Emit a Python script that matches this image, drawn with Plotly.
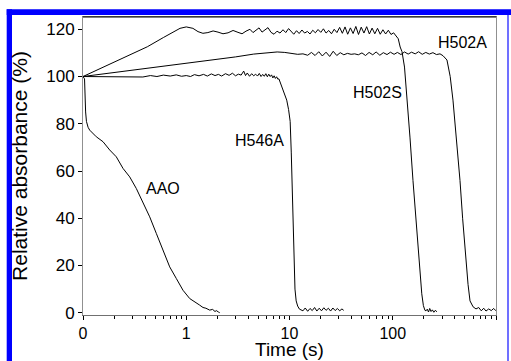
import math
import plotly.graph_objects as go

FONT = "Liberation Sans, Arial, sans-serif"

# ---- data (time in s, relative absorbance in %) ----
aao_t = [0.1, 0.1035, 0.106, 0.108, 0.112, 0.1161, 0.1345, 0.1562, 0.1814, 0.2102, 0.244,
         0.2834, 0.3283, 0.3812, 0.4426, 0.5127, 0.5953, 0.6912, 0.8009, 0.93, 1.08,
         1.251, 1.35, 1.453, 1.55, 1.687, 1.8, 1.9, 1.954, 2.05, 2.109]
aao_a = [100, 99, 85, 81, 78.5, 77.3, 74.5, 72.4, 68.9, 66.0, 61.1,
         57.5, 52.6, 46.3, 40.6, 33.6, 26.5, 19.4, 14.5, 9.5, 6.0,
         3.9, 3.2, 2.2, 1.9, 1.1, 1.4, 0.5, 0.9, 0.3, 0.0]

h546a_t = [0.1, 0.2, 0.3, 0.38, 0.45, 0.52, 0.6, 0.7, 0.8, 0.9, 1.0, 1.1, 1.2, 1.33, 1.47,
           1.6, 1.75, 1.9, 2.05, 2.2, 2.4, 2.6, 2.8, 3.0, 3.2, 3.4, 3.6, 3.75, 3.9, 4.1,
           4.3, 4.5, 4.7, 4.9, 5.1, 5.3, 5.5, 5.7, 5.9, 6.1, 6.3, 6.5, 6.7, 6.9, 7.1,
           7.3, 7.5, 7.7, 7.9, 8.1, 8.4, 8.7, 9.0, 9.4, 9.8, 10.15, 10.4, 10.6, 10.85,
           11.1, 11.3, 11.6, 12.0, 12.5, 13.5, 14.2, 15.0, 15.8, 16.6, 17.5, 18.4, 19.4,
           20.4, 21.5, 22.6, 23.8, 25.0, 26.3, 27.7, 29.1, 30.6, 32.2, 33.5]
h546a_a = [100, 100.0, 100.1, 99.8, 100.4, 100.0, 100.6, 100.2, 100.7, 100.1, 100.4, 100.0,
           100.8, 100.3, 100.9, 100.2, 101.1, 100.4, 100.9, 100.2, 101.2, 100.5, 101.4,
           100.3, 101.0, 100.6, 102.3, 100.4, 101.5, 100.1, 101.2, 100.3, 101.0, 100.2,
           101.3, 100.0, 100.9, 100.1, 101.2, 99.9, 101.0, 100.0, 100.7, 99.4, 100.3,
           99.2, 99.9, 98.9, 99.0, 97.7, 96.5, 94.8, 92.8, 90, 86, 81, 68, 55, 38,
           22, 10, 5, 2.8, 1.5, 0.8, 2.0, 0.6, 1.8, 0.9, 2.2, 0.7, 1.9,
           0.8, 2.1, 1.0, 1.9, 0.7, 2.0, 0.9, 1.8, 0.8, 1.6, 1.0]

h502s_t = [0.1, 0.2, 0.42, 0.6, 0.75, 0.87, 1.0, 1.16, 1.3, 1.45, 1.62, 1.82, 2.03, 2.27,
           2.54, 2.84, 3.17, 3.47, 3.79, 4.14, 4.43, 4.74, 5.07, 5.42, 5.79, 6.19, 6.62,
           7.08, 7.57, 8.09, 8.65, 9.2, 9.8, 10.4, 11.0, 11.7, 12.4, 13.2, 14.0, 14.9,
           15.8, 16.8, 17.8, 18.9, 20.1, 21.3, 22.6, 24.0, 25.5, 27.1, 28.8, 30.6, 32.5,
           34.5, 36.6, 38.9, 41.3, 43.9, 46.6, 49.5, 52.6, 55.9, 59.4, 63.1, 67.0, 71.2,
           75.6, 80.3, 85.3, 90.6, 96.2, 102, 108, 113, 118, 123, 130, 137, 147, 157,
           167, 176, 185, 191, 198, 205, 210, 216, 222, 228, 235, 242, 250, 258, 268]
h502s_a = [100, 106.2, 112.6, 116.5, 119.0, 120.4, 121.0, 120.4, 119.0, 118.3, 118.6, 119.3,
           118.8, 118.1, 118.5, 119.5, 118.7, 118.1, 119.2, 120.0, 118.6, 119.6, 120.6,
           118.8, 119.6, 120.7, 118.7, 117.9, 119.2, 118.4, 119.8, 118.6, 120.3, 118.9,
           117.9, 119.4, 118.2, 119.7, 118.4, 119.1, 118.0, 119.6, 118.5, 119.9, 118.7,
           120.2, 118.4, 119.5, 118.1, 120.0, 118.6, 120.8, 118.3, 121.0, 117.9, 120.6,
           118.2, 121.2, 117.8, 120.9, 118.4, 121.1, 118.0, 120.5, 118.1, 120.4, 117.9,
           119.8, 118.0, 119.6, 117.8, 118.5, 117.2, 116.0, 112.5, 110.5, 104.0, 92, 74,
           56, 40, 26, 14, 8, 3, 1.0, 0.8, 1.5, 0.3, 1.8, 0.5, 1.2, 0.2, 1.0, 0.4]

h502a_t = [0.1, 0.3, 1, 2, 3, 4.5, 6, 7.6, 9, 10.5, 12, 13.5, 15, 16.3, 17.7, 19.2, 20.8,
           22.6, 24.5, 26.5, 28.7, 31, 33.6, 36.4, 39.5, 42.8, 46.4, 50.3, 54.5, 59, 64,
           69, 75, 81, 88, 95, 103, 111, 120, 130, 141, 152, 165, 178, 193, 209, 226,
           245, 265, 287, 307, 335, 360, 383, 410, 448, 475, 501, 536, 560, 600, 640,
           680, 720, 760, 800, 850, 900, 950, 1000]
h502a_a = [100, 102.6, 105.5, 107.2, 108.3, 109.5, 110.1, 110.4, 110.2, 109.8, 109.4, 109.6,
           109.0, 110.2, 108.9, 110.5, 108.7, 110.3, 108.5, 110.7, 108.9, 110.1, 109.2,
           109.8, 109.4, 109.6, 109.2, 110.0, 108.9, 110.2, 109.2, 110.4, 109.0, 110.1,
           109.3, 110.3, 109.4, 110.2, 109.3, 110.4, 109.5, 110.3, 109.6, 110.5, 109.4,
           110.2, 109.5, 110.1, 109.3, 109.6, 108.8, 107.0, 100, 90, 76, 56, 40, 26, 12,
           5, 2.5, 1.6, 2.2, 0.8, 1.9, 0.7, 1.6, 0.9, 1.8, 0.8]

x_tick_vals = [0.1, 1, 10, 100, 1000]
x_tick_text = ["0", "1", "10", "100", "1000"]
y_tick_vals = [0, 20, 40, 60, 80, 100, 120]

labels = ["AAO", "H546A", "H502S", "H502A"]
label_t = [0.595, 5.07, 70.4, 468.6]
label_a = [52.8, 73.1, 93.4, 114.2]

minor_vals = [m * d for d in (0.1, 1, 10, 100) for m in range(2, 10)]

fig = go.Figure()
for t, a in [(aao_t, aao_a), (h546a_t, h546a_a), (h502s_t, h502s_a), (h502a_t, h502a_a)]:
    fig.add_trace(go.Scatter(x=t, y=a, mode="lines",
                             line=dict(color="black", width=1), showlegend=False,
                             hoverinfo="skip"))

for txt, t, a in zip(labels, label_t, label_a):
    fig.add_annotation(x=math.log10(t), y=a, xref="x", yref="y", text=txt,
                       showarrow=False, font=dict(family=FONT, size=16, color="black"))


def px_x(p):
    return (p - 83) / 413.0


def px_y(p):
    return (315 - p) / 298.0


# x-axis title as an annotation so it can sit just below the tick labels
fig.add_annotation(x=0.5, y=px_y(361), xref="paper", yref="paper", text="Time (s)",
                   showarrow=False, yanchor="bottom", xanchor="center", borderpad=0,
                   font=dict(family=FONT, size=19, color="black"))

fig.update_layout(
    width=511, height=361,
    margin=dict(l=83, r=15, t=17, b=46, autoexpand=False),
    paper_bgcolor="white", plot_bgcolor="white",
    font=dict(family=FONT, size=16, color="black"),
    showlegend=False,
)

fig.update_xaxes(
    type="log", range=[-1, 3], tickvals=x_tick_vals, ticktext=x_tick_text,
    ticks="outside", ticklen=4, tickcolor="black", tickwidth=1,
    showline=True, linecolor="#707070", linewidth=1, mirror=True,
    showgrid=False, zeroline=False, automargin=False,
    tickfont=dict(family=FONT, size=16, color="black"),
    minor=dict(tickvals=minor_vals, ticks="outside", ticklen=3, tickcolor="black",
               showgrid=False),
)
fig.update_yaxes(
    range=[-0.97, 125.2], tickvals=y_tick_vals,
    ticks="outside", ticklen=4, tickcolor="black", tickwidth=1,
    showline=True, linecolor="#909090", linewidth=1, mirror=True,
    showgrid=False, zeroline=False, automargin=False,
    tickfont=dict(family=FONT, size=17, color="black"),
    title=dict(text="Relative absorbance (%)", font=dict(family=FONT, size=21, color="black"),
               standoff=12),
)

# top frame line darker
fig.add_shape(type="line", xref="paper", yref="paper", x0=0, x1=1, y0=1, y1=1,
              line=dict(color="black", width=1))

# blue page frame
fig.add_shape(type="rect", xref="paper", yref="paper",
              x0=px_x(6.7), x1=px_x(12), y0=px_y(9.3), y1=px_y(361),
              line=dict(width=0), fillcolor="#0000ff")
fig.add_shape(type="rect", xref="paper", yref="paper",
              x0=px_x(6.7), x1=px_x(511), y0=px_y(9.3), y1=px_y(15),
              line=dict(width=0), fillcolor="#0000ff")
fig.add_shape(type="line", xref="paper", yref="paper",
              x0=px_x(508), x1=px_x(508), y0=px_y(15), y1=px_y(361),
              line=dict(color="#7070ff", width=2))

fig.write_html("out.html")
